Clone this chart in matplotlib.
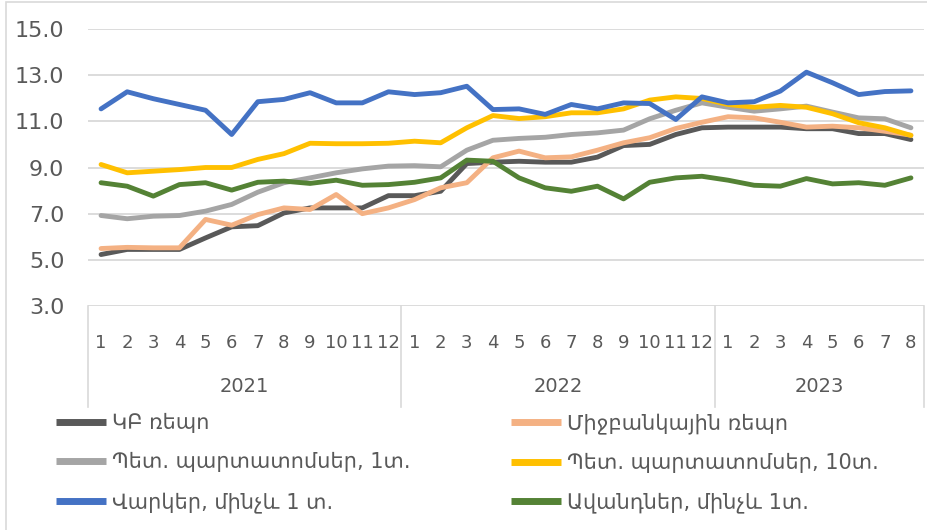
import numpy as np
import matplotlib
matplotlib.use('Agg')
import matplotlib.pyplot as plt
from matplotlib.patches import Rectangle
import matplotlib.transforms as mtransforms

plt.rcParams['font.family'] = ['DejaVu Sans']

months = [str(m) for m in range(1, 13)] * 2 + [str(m) for m in range(1, 9)]
years = ['2021', '2022', '2023']
year_len = [12, 12, 8]

cb_repo = [5.23, 5.45, 5.45, 5.45, 5.95, 6.43, 6.48, 7.03, 7.25, 7.25, 7.25, 7.78,
           7.78, 7.97, 9.17, 9.23, 9.27, 9.23, 9.23, 9.45, 9.95, 10.0, 10.43, 10.72,
           10.75, 10.75, 10.75, 10.68, 10.68, 10.47, 10.47, 10.21]
interbank = [5.49, 5.54, 5.52, 5.52, 6.75, 6.5, 6.96, 7.25, 7.18, 7.83, 7.0, 7.25,
             7.61, 8.12, 8.34, 9.42, 9.71, 9.42, 9.46, 9.75, 10.07, 10.29, 10.69, 10.96,
             11.2, 11.15, 10.96, 10.75, 10.79, 10.72, 10.57, 10.4]
gov_1y = [6.92, 6.78, 6.89, 6.92, 7.11, 7.4, 7.93, 8.34, 8.55, 8.77, 8.94, 9.06,
          9.08, 9.03, 9.75, 10.18, 10.26, 10.31, 10.43, 10.5, 10.62, 11.11, 11.48, 11.8,
          11.61, 11.44, 11.54, 11.66, 11.4, 11.15, 11.11, 10.72]
gov_10y = [9.13, 8.77, 8.84, 8.91, 9.0, 9.0, 9.35, 9.6, 10.05, 10.03, 10.03, 10.05,
           10.14, 10.07, 10.72, 11.25, 11.12, 11.2, 11.37, 11.37, 11.54, 11.92, 12.06, 11.99,
           11.73, 11.61, 11.69, 11.61, 11.33, 10.94, 10.72, 10.39]
loans = [11.54, 12.28, 11.98, 11.73, 11.48, 10.43, 11.85, 11.95, 12.24, 11.8, 11.8, 12.28,
         12.16, 12.24, 12.52, 11.51, 11.54, 11.3, 11.73, 11.54, 11.8, 11.77, 11.08, 12.06,
         11.8, 11.85, 12.31, 13.13, 12.67, 12.16, 12.29, 12.32]
deposits = [8.34, 8.19, 7.76, 8.26, 8.34, 8.02, 8.36, 8.41, 8.31, 8.45, 8.23, 8.26,
            8.36, 8.55, 9.32, 9.27, 8.55, 8.12, 7.97, 8.19, 7.64, 8.36, 8.55, 8.62,
            8.45, 8.23, 8.19, 8.52, 8.29, 8.34, 8.23, 8.55]

series = [
    ('ԿԲ ռեպո', cb_repo, '#595959'),
    ('Միջբանկային ռեպո', interbank, '#F4B183'),
    ('Պետ. պարտատոմսեր, 1տ.', gov_1y, '#A5A5A5'),
    ('Պետ. պարտատոմսեր, 10տ.', gov_10y, '#FFC000'),
    ('Վարկեր, մինչև 1 տ.', loans, '#4472C4'),
    ('Ավանդներ, մինչև 1տ.', deposits, '#548235'),
]

txt = '#595959'
grid = '#D9D9D9'

fig = plt.figure(figsize=(9.28, 5.30), dpi=100)
ax = fig.add_axes([88 / 928, 1 - 306 / 530, 836 / 928, 277 / 530])

x = np.arange(len(months))
handles = []
for name, vals, col in series:
    ln, = ax.plot(x, vals, color=col, lw=3.5, solid_joinstyle='round', solid_capstyle='round', label=name)
    handles.append(ln)

ax.set_xlim(-0.5, len(months) - 0.5)
ax.set_ylim(3, 15)
ax.set_yticks(np.arange(3, 15.1, 2))
ax.set_yticklabels([f'{v:.1f}' for v in np.arange(3, 15.1, 2)])
ax.grid(axis='y', color=grid, lw=1.3)
ax.set_axisbelow(True)
for s in ax.spines.values():
    s.set_visible(False)
ax.tick_params(axis='y', length=0, pad=17, labelsize=16, labelcolor=txt)
ax.set_xticks(x)
ax.set_xticklabels(months)
ax.tick_params(axis='x', length=0, pad=20, labelsize=13, labelcolor=txt)

# year separators and labels
trans = mtransforms.blended_transform_factory(ax.transData, ax.transAxes)
bounds = np.concatenate([[0], np.cumsum(year_len)]) - 0.5
for b in bounds:
    ax.plot([b, b], [0, -0.365], color=grid, lw=1.2, transform=trans, clip_on=False)
for i, yr in enumerate(years):
    ax.text((bounds[i] + bounds[i + 1]) / 2, -0.289, yr, transform=trans,
            ha='center', va='center', fontsize=14, color=txt)

# legend in two columns
leg_kw = dict(frameon=False, fontsize=15, handlelength=2.4, handletextpad=0.3,
              labelspacing=0.92, borderaxespad=0, borderpad=0, labelcolor=txt)
l1 = fig.legend(handles[0::2], [h.get_label() for h in handles[0::2]],
                loc='upper left', bbox_to_anchor=(56 / 928, 1 - 413 / 530), **leg_kw)
l2 = fig.legend(handles[1::2], [h.get_label() for h in handles[1::2]],
                loc='upper left', bbox_to_anchor=(511 / 928, 1 - 413 / 530), **leg_kw)
for lg in (l1, l2):
    for h in lg.legend_handles:
        h.set_linewidth(5)
        h.set_solid_capstyle('butt')

# chart border
fig.patches.append(Rectangle((6 / 928, -0.1), 1.2, 1 - 2 / 530 + 0.1, transform=fig.transFigure,
                             fill=False, edgecolor='#D9D9D9', lw=1.2))

fig.savefig('out.png', dpi=100)
